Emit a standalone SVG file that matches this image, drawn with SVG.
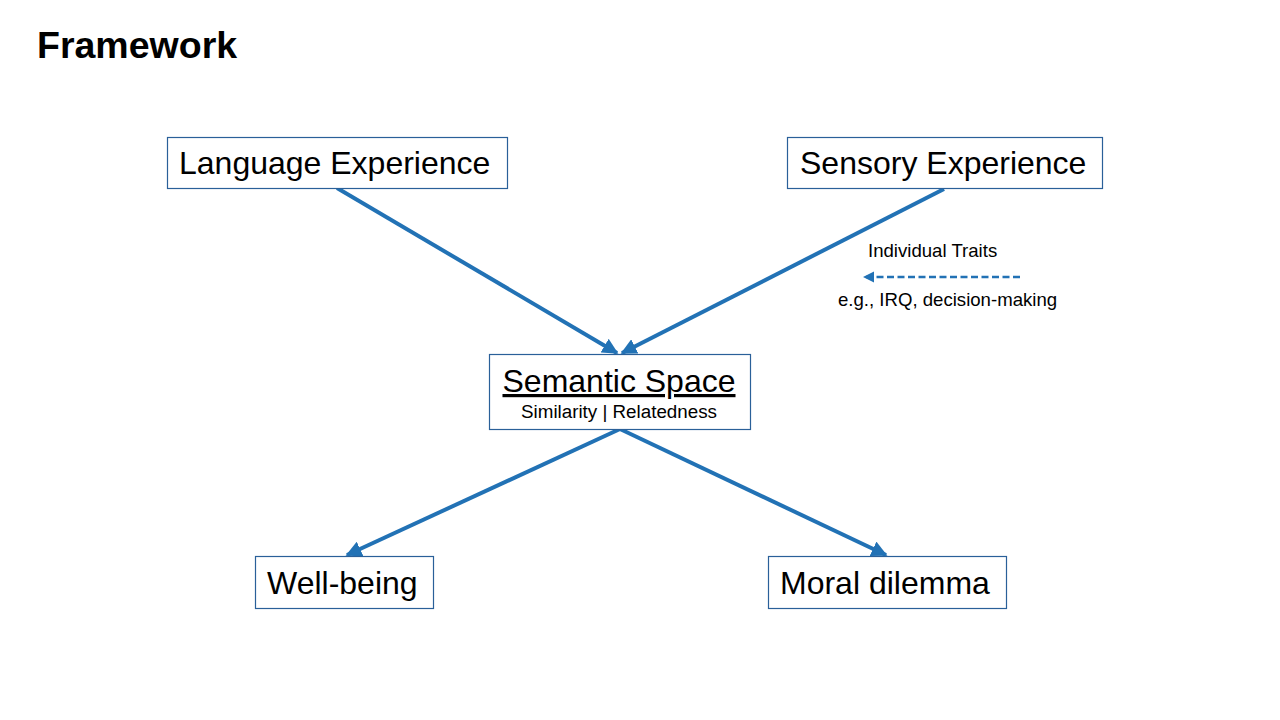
<svg xmlns="http://www.w3.org/2000/svg" width="1280" height="720" viewBox="0 0 1280 720">
<defs>
<style>
.box{fill:#fff;stroke:#2a6099;stroke-width:1.2}
.t{font-family:"Liberation Sans",Arial,sans-serif;fill:#000}
.big{font-size:32px}
.small{font-size:18.6px}
.conn{stroke:#2272b5;stroke-width:4;fill:none}
</style>
<marker id="ah" viewBox="0 0 10 10" refX="9" refY="5" markerWidth="4" markerHeight="4" orient="auto" markerUnits="strokeWidth">
<path d="M0,0 L10,5 L0,10 z" fill="#2272b5"/>
</marker>
<marker id="ah2" viewBox="0 0 10 10" refX="9" refY="5" markerWidth="4.5" markerHeight="4.5" orient="auto" markerUnits="strokeWidth">
<path d="M0,0 L10,5 L0,10 z" fill="#2272b5"/>
</marker>
</defs>
<rect width="1280" height="720" fill="#fff"/>
<text class="t" x="37" y="58" font-size="37.5" font-weight="bold">Framework</text>
<g id="connectors">
<line class="conn" x1="337" y1="188" x2="617" y2="353" marker-end="url(#ah)"/>
<line class="conn" x1="944" y1="189" x2="622" y2="353" marker-end="url(#ah)"/>
<line class="conn" x1="620" y1="429" x2="347" y2="555" marker-end="url(#ah)"/>
<line class="conn" x1="620" y1="429" x2="886" y2="555" marker-end="url(#ah)"/>
<line x1="1020" y1="277" x2="864" y2="277" stroke="#2272b5" stroke-width="2.5" stroke-dasharray="7,3.5" marker-end="url(#ah2)"/>
</g>
<g id="language">
<rect class="box" x="167.5" y="137.5" width="340" height="51"/>
<text class="t big" x="179" y="174">Language Experience</text>
</g>
<g id="sensory">
<rect class="box" x="787.5" y="137.5" width="315" height="51"/>
<text class="t big" x="800" y="174">Sensory Experience</text>
</g>
<g id="semantic">
<rect class="box" x="489.5" y="354.5" width="261" height="75"/>
<text class="t big" x="619" y="392" text-anchor="middle" text-decoration="underline">Semantic Space</text>
<text class="t" x="619" y="418" font-size="18.8" text-anchor="middle">Similarity | Relatedness</text>
</g>
<g id="traits">
<text class="t small" x="868" y="257">Individual Traits</text>
<text class="t small" x="838" y="306">e.g., IRQ, decision-making</text>
</g>
<g id="wellbeing">
<rect class="box" x="255.5" y="556.5" width="178" height="52"/>
<text class="t big" x="267" y="594">Well-being</text>
</g>
<g id="moral">
<rect class="box" x="768.5" y="556.5" width="238" height="52"/>
<text class="t big" x="780" y="594">Moral dilemma</text>
</g>
</svg>
